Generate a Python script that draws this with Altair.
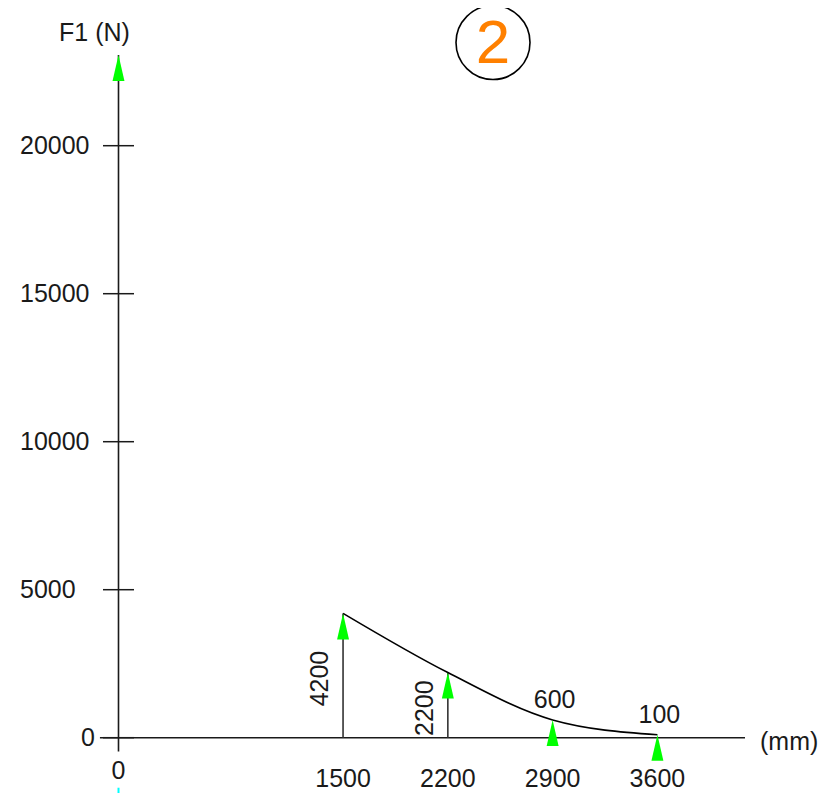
import altair as alt
import pandas as pd

# ---------------- data ----------------
Y_TICKS = [0, 5000, 10000, 15000, 20000]
FORCE_POS = [1500, 2200, 2900, 3600]
FORCE_VAL = [4200, 2200, 600, 100]
LABEL_STYLE = ["vertical", "vertical", "above", "above"]
X_LABELS = [0, 1500, 2200, 2900, 3600]
Y_AXIS_TOP = 23060
Y_AXIS_BOTTOM = -470
X_AXIS_LEFT = -124
X_AXIS_RIGHT = 4185
CYAN_START = -1690
X_UNIT = "(mm)"
Y_UNIT = "F1 (N)"
BADGE = "2"

# ---------------- calibration ----------------
W, H = 811, 785
X0_PX, X_PER = 118.5 - 8, 0.1497
Y0_PX, Y_PER = 737.7 - 8, 0.0296
x_dom = [-X0_PX / X_PER, (W - X0_PX) / X_PER]
y_dom = [(Y0_PX - H) / Y_PER, Y0_PX / Y_PER]
xs = alt.Scale(domain=x_dom, nice=False, zero=False)
ys = alt.Scale(domain=y_dom, nice=False, zero=False)
FONT = "Liberation Sans"
FS = 25
INK = "#1a1a1a"
GREEN = "#00ff00"
ARROW = "M0,-1L0.46,1L-0.46,1Z"


def X(f):
    return alt.X(f, type="quantitative", scale=xs, axis=None)


def Y(f):
    return alt.Y(f, type="quantitative", scale=ys, axis=None)


forces = pd.DataFrame({"x": FORCE_POS, "v": FORCE_VAL, "style": LABEL_STYLE})
forces["label"] = forces["v"].astype(str)
forces["zero"] = 0
ticks = pd.DataFrame({"y": Y_TICKS, "x": 0})
ticks["label"] = ticks["y"].astype(str)
xlab = pd.DataFrame({"x": X_LABELS, "y": 0})
xlab["label"] = xlab["x"].astype(str)

yaxis = alt.Chart(pd.DataFrame({"x": [0], "y": [Y_AXIS_BOTTOM], "y2": [Y_AXIS_TOP]})).mark_rule(
    color=INK, strokeWidth=1.6).encode(x=X("x"), y=Y("y"), y2="y2")
xaxis = alt.Chart(pd.DataFrame({"x": [X_AXIS_LEFT], "x2": [X_AXIS_RIGHT], "y": [0]})).mark_rule(
    color=INK, strokeWidth=1.6).encode(x=X("x"), x2="x2", y=Y("y"))
cyan = alt.Chart(pd.DataFrame({"x": [0], "y": [CYAN_START], "y2": [y_dom[0]]})).mark_rule(
    color="#00ffff", strokeWidth=2).encode(x=X("x"), y=Y("y"), y2="y2")

ytick = alt.Chart(ticks).mark_tick(orient="horizontal", size=31, thickness=1.5, color=INK, opacity=1).encode(
    x=X("x"), y=Y("y"))
ylab_nz = alt.Chart(ticks).transform_filter("datum.y != 0").mark_text(
    align="left", baseline="middle", font=FONT, fontSize=FS, color=INK, xOffset=-98.5).encode(
    x=X("x"), y=Y("y"), text="label:N")
ylab_z = alt.Chart(ticks).transform_filter("datum.y == 0").mark_text(
    align="left", baseline="middle", font=FONT, fontSize=FS, color=INK, xOffset=-37.5).encode(
    x=X("x"), y=Y("y"), text="label:N")

xlab_z = alt.Chart(xlab).transform_filter("datum.x == 0").mark_text(
    align="center", baseline="middle", font=FONT, fontSize=FS, color=INK, yOffset=33).encode(
    x=X("x"), y=Y("y"), text="label:N")
xlab_nz = alt.Chart(xlab).transform_filter("datum.x != 0").mark_text(
    align="center", baseline="middle", font=FONT, fontSize=FS, color=INK, yOffset=41).encode(
    x=X("x"), y=Y("y"), text="label:N")

vrules = alt.Chart(forces).transform_filter("datum.style == 'vertical'").mark_rule(
    color="#333333", strokeWidth=1.6).encode(x=X("x"), y=Y("zero"), y2="v")
curve = alt.Chart(forces).mark_line(color="black", strokeWidth=1.6, interpolate="monotone").encode(
    x=X("x"), y=Y("v"), order="x:Q")
arrows = alt.Chart(forces).mark_point(shape=ARROW, filled=True, color=GREEN, size=676, opacity=1,
                                      yOffset=13).encode(x=X("x"), y=Y("v"))
top_arrow = alt.Chart(pd.DataFrame({"x": [0], "y": [Y_AXIS_TOP]})).mark_point(
    shape=ARROW, filled=True, color=GREEN, size=676, opacity=1, yOffset=13).encode(x=X("x"), y=Y("y"))

vlabels = alt.Chart(forces).transform_filter("datum.style == 'vertical'").transform_calculate(
    mid="datum.v / 2").mark_text(angle=270, align="center", baseline="middle", font=FONT, fontSize=FS,
                                 color=INK, xOffset=-23, yOffset=3).encode(x=X("x"), y=Y("mid:Q"), text="label:N")
alabels = alt.Chart(forces).transform_filter("datum.style == 'above'").mark_text(
    align="center", baseline="middle", font=FONT, fontSize=FS, color=INK, yOffset=-20, xOffset=2).encode(
    x=X("x"), y=Y("v"), text="label:N")

xunit = alt.Chart(pd.DataFrame({"x": [X_AXIS_RIGHT], "y": [0], "t": [X_UNIT]})).mark_text(
    align="left", baseline="middle", font=FONT, fontSize=FS, color=INK, xOffset=15, yOffset=4).encode(
    x=X("x"), y=Y("y"), text="t:N")
yunit = alt.Chart(pd.DataFrame({"x": [0], "y": [Y_AXIS_TOP], "t": [Y_UNIT]})).mark_text(
    align="center", baseline="middle", font=FONT, fontSize=FS, color=INK, xOffset=-24, yOffset=-22).encode(
    x=X("x"), y=Y("y"), text="t:N")

badge_df = pd.DataFrame({"t": [BADGE]})
badge_circle = alt.Chart(badge_df).mark_point(shape="circle", filled=False, size=5476, color="black",
                                              strokeWidth=1.6, opacity=1).encode(
    x=alt.value(485), y=alt.value(34.5))
badge_text = alt.Chart(badge_df).mark_text(align="center", baseline="middle", font=FONT, fontSize=62,
                                           color="#ff8000").encode(
    x=alt.value(485), y=alt.value(35.5), text="t:N")

chart = alt.layer(
    yaxis, xaxis, cyan, ytick, ylab_nz, ylab_z, xlab_z, xlab_nz, vrules, curve, arrows, top_arrow,
    vlabels, alabels, xunit, yunit, badge_circle, badge_text
).properties(width=W, height=H, autosize="none", padding=0, background="white").configure_view(stroke=None)

chart.save("out.html", embed_options={"renderer": "svg", "actions": False})
